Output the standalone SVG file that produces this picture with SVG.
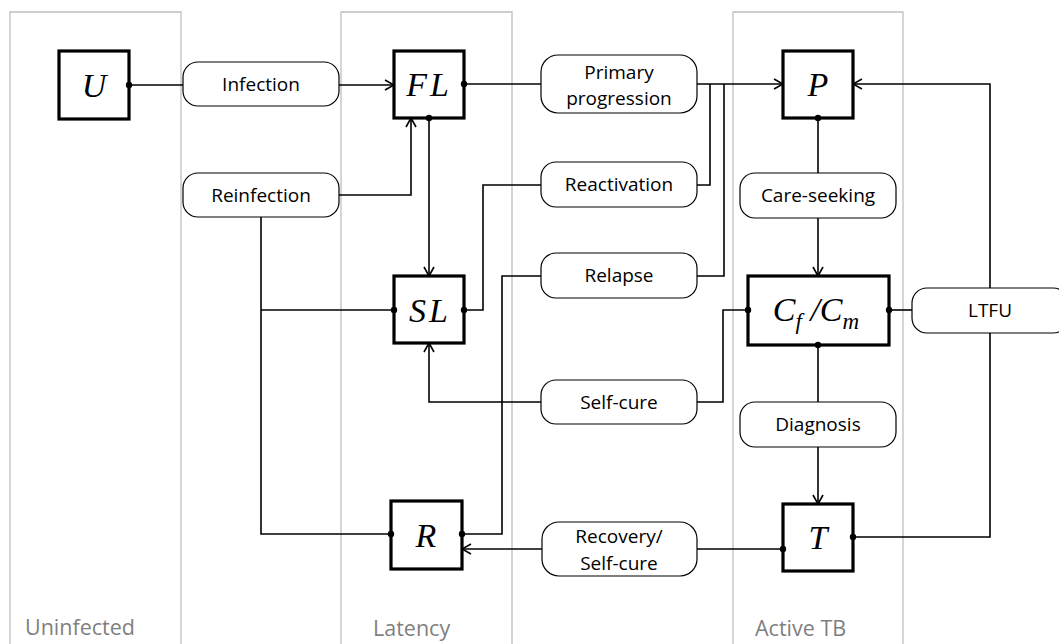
<svg xmlns="http://www.w3.org/2000/svg" width="1059" height="644" viewBox="0 0 1059 644">
<defs>
<marker id="arr" viewBox="0 0 12 12" refX="11" refY="6" markerWidth="12" markerHeight="12" markerUnits="userSpaceOnUse" orient="auto">
<path d="M2,1 L11,6 L2,11" fill="none" stroke="#000" stroke-width="1.6"/>
</marker>
</defs>
<style>
.panel{fill:none;stroke:#bfbfbf;stroke-width:1.3}
.plabel{font-family:"Open Sans","Noto Sans",sans-serif;font-size:21.5px;fill:#7f7f7f}
.box{fill:#fff;stroke:#000;stroke-width:3.2}
.pill{fill:#fff;stroke:#000;stroke-width:1.2}
.ptxt{font-family:"Open Sans","Noto Sans",sans-serif;font-size:19px;fill:#000;text-anchor:middle}
.math{font-family:"Liberation Serif","DejaVu Serif",serif;font-style:italic;font-size:34px;fill:#000;text-anchor:middle}
.c{fill:none;stroke:#000;stroke-width:1.6}
.dot{fill:#000}
</style>
<g id="panels">
<path class="panel" d="M10,650 V12 H181 V650"/>
<path class="panel" d="M341,650 V12 H512 V650"/>
<path class="panel" d="M733,650 V12 H903 V650"/>
<text class="plabel" x="25" y="635">Uninfected</text>
<text class="plabel" x="373" y="636">Latency</text>
<text class="plabel" x="755" y="636">Active TB</text>
</g>
<g id="connectors">
<path class="c" d="M129,85 H183"/>
<path class="c" d="M339,85 H394" marker-end="url(#arr)"/>
<path class="c" d="M339,195 H411 V118" marker-end="url(#arr)"/>
<path class="c" d="M261,217 V534 H391"/>
<path class="c" d="M261,310 H394"/>
<path class="c" d="M429,118 V276" marker-end="url(#arr)"/>
<path class="c" d="M464,84 H541"/>
<path class="c" d="M697,84 H783" marker-end="url(#arr)"/>
<path class="c" d="M464,310 H483 V185 H541"/>
<path class="c" d="M697,185 H710 V84"/>
<path class="c" d="M462,534 H502 V276 H541"/>
<path class="c" d="M697,276 H724 V84"/>
<path class="c" d="M748,310 H723 V402 H697"/>
<path class="c" d="M541,402 H429 V343" marker-end="url(#arr)"/>
<path class="c" d="M818,118 V173"/>
<path class="c" d="M818,218 V276" marker-end="url(#arr)"/>
<path class="c" d="M818,345 V402"/>
<path class="c" d="M818,447 V504" marker-end="url(#arr)"/>
<path class="c" d="M889,310 H912"/>
<path class="c" d="M990,288 V84 H853" marker-end="url(#arr)"/>
<path class="c" d="M990,333 V537 H853"/>
<path class="c" d="M783,549 H697"/>
<path class="c" d="M542,549 H462" marker-end="url(#arr)"/>
</g>
<g id="node-U">
<rect class="box" x="59" y="51" width="70" height="68"/>
<text class="math" x="94" y="97">U</text>
<circle class="dot" cx="129" cy="85" r="3.2"/>
</g>
<g id="node-FL">
<rect class="box" x="394" y="51" width="70" height="67"/>
<text class="math" x="429" y="96" letter-spacing="3">FL</text>
<circle class="dot" cx="464" cy="84" r="3.2"/>
<circle class="dot" cx="429" cy="118" r="3.2"/>
</g>
<g id="node-SL">
<rect class="box" x="394" y="276" width="70" height="67"/>
<text class="math" x="430" y="322" letter-spacing="3">SL</text>
<circle class="dot" cx="394" cy="310" r="3.2"/>
<circle class="dot" cx="464" cy="310" r="3.2"/>
</g>
<g id="node-R">
<rect class="box" x="391" y="501" width="71" height="68"/>
<text class="math" x="426" y="547">R</text>
<circle class="dot" cx="391" cy="534" r="3.2"/>
<circle class="dot" cx="462" cy="534" r="3.2"/>
</g>
<g id="node-P">
<rect class="box" x="783" y="51" width="70" height="67"/>
<text class="math" x="818" y="96">P</text>
<circle class="dot" cx="818" cy="118" r="3.2"/>
</g>
<g id="node-C">
<rect class="box" x="748" y="276" width="141" height="69"/>
<text class="math" x="816" y="321">C<tspan font-size="23" dy="8">f</tspan><tspan dy="-8"> /C</tspan><tspan font-size="23" dy="8">m</tspan></text>
<circle class="dot" cx="748" cy="310" r="3.2"/>
<circle class="dot" cx="889" cy="310" r="3.2"/>
<circle class="dot" cx="818" cy="345" r="3.2"/>
</g>
<g id="node-T">
<rect class="box" x="783" y="504" width="70" height="67"/>
<text class="math" x="818" y="549">T</text>
<circle class="dot" cx="853" cy="537" r="3.2"/>
<circle class="dot" cx="783" cy="549" r="3.2"/>
</g>
<g id="label-infection">
<rect class="pill" x="183" y="62" width="156" height="44" rx="15"/>
<text class="ptxt" x="261" y="91">Infection</text>
</g>
<g id="label-reinfection">
<rect class="pill" x="183" y="173" width="156" height="44" rx="15"/>
<text class="ptxt" x="261" y="202">Reinfection</text>
</g>
<g id="label-primary">
<rect class="pill" x="541" y="55" width="156" height="58" rx="17"/>
<text class="ptxt" x="619" y="79">Primary</text>
<text class="ptxt" x="619" y="105">progression</text>
</g>
<g id="label-reactivation">
<rect class="pill" x="541" y="162" width="156" height="45" rx="15"/>
<text class="ptxt" x="619" y="191">Reactivation</text>
</g>
<g id="label-relapse">
<rect class="pill" x="541" y="253" width="156" height="45" rx="15"/>
<text class="ptxt" x="619" y="282">Relapse</text>
</g>
<g id="label-selfcure">
<rect class="pill" x="541" y="380" width="156" height="44" rx="15"/>
<text class="ptxt" x="619" y="409">Self-cure</text>
</g>
<g id="label-recovery">
<rect class="pill" x="542" y="522" width="155" height="54" rx="17"/>
<text class="ptxt" x="619" y="543">Recovery/</text>
<text class="ptxt" x="619" y="570">Self-cure</text>
</g>
<g id="label-careseeking">
<rect class="pill" x="740" y="173" width="156" height="45" rx="15"/>
<text class="ptxt" x="818" y="202">Care-seeking</text>
</g>
<g id="label-diagnosis">
<rect class="pill" x="740" y="402" width="156" height="45" rx="15"/>
<text class="ptxt" x="818" y="431">Diagnosis</text>
</g>
<g id="label-ltfu">
<rect class="pill" x="912" y="288" width="156" height="45" rx="15"/>
<text class="ptxt" x="990" y="317">LTFU</text>
</g>
</svg>
